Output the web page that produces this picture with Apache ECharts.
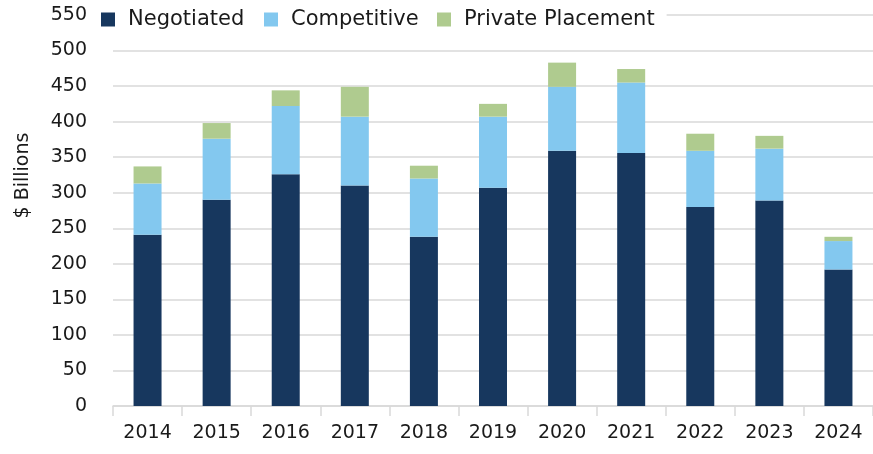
<!DOCTYPE html>
<html>
<head>
<meta charset="utf-8">
<script src="https://cdn.jsdelivr.net/npm/echarts@6/dist/echarts.min.js"></script>
<style>
  html, body { margin: 0; padding: 0; background: #fff; }
  #chart { width: 873px; height: 454px; }
</style>
</head>
<body>
<div id="chart"></div>
<script>
// years on the x axis
const years = ['2014', '2015', '2016', '2017', '2018', '2019', '2020', '2021', '2022', '2023', '2024']

// $ billions
const negotiated = [241, 290, 326, 310, 238, 307, 359, 356, 280, 289, 192]
const competitive = [72, 86, 96, 97, 82, 100, 90, 99, 79, 73, 40]
const privatePlacement = [24, 22, 22, 42, 18, 18, 34, 19, 24, 18, 6]

const chart = echarts.init(document.getElementById('chart'))

const gridColor = '#d9d9d9'
const font = 'DejaVu Sans'

// one legend per series so each entry can sit where the original puts it;
// the white box hides the 550 grid line behind the legend like in the original
const legendAt = (name, left, padRight) => ({
  data: [name],
  left,
  top: 4,
  icon: 'rect',
  itemWidth: 14,
  itemHeight: 14,
  backgroundColor: '#fff',
  padding: [5, padRight, 5, 5],
  textStyle: { fontFamily: font, fontSize: 21, color: '#1a1a1a', padding: [0, 0, 0, 8] },
})

const option = {
  animation: false,
  legend: [
    legendAt('Negotiated', 96, 22),
    legendAt('Competitive', 259, 16),
    legendAt('Private Placement', 432, 12),
  ],
  grid: {
    left: 113,
    top: 15,
    bottom: 48,
    width: 768,
    containLabel: false,
  },
  xAxis: {
    type: 'category',
    data: years,
    axisLine: { lineStyle: { color: gridColor, width: 1.5 } },
    axisTick: { show: true, length: 10, lineStyle: { color: gridColor, width: 1.5 } },
    axisLabel: { fontFamily: font, fontSize: 19, color: '#1a1a1a', margin: 18 },
  },
  yAxis: {
    type: 'value',
    min: 0,
    max: 550,
    interval: 50,
    name: '$ Billions',
    nameLocation: 'middle',
    nameGap: 80,
    nameTextStyle: { fontFamily: font, fontSize: 19, color: '#1a1a1a', padding: [0, 0, 0, 70] },
    axisLine: { show: false },
    axisTick: { show: false },
    axisLabel: { fontFamily: font, fontSize: 19, color: '#1a1a1a', margin: 26 },
    splitLine: { lineStyle: { color: gridColor, width: 1.5 } },
  },
  series: [
    {
      name: 'Negotiated',
      type: 'bar',
      stack: 'total',
      barWidth: 28,
      data: negotiated,
      itemStyle: { color: '#17375e' },
    },
    {
      name: 'Competitive',
      type: 'bar',
      stack: 'total',
      barWidth: 28,
      data: competitive,
      itemStyle: { color: '#83c8ef' },
    },
    {
      name: 'Private Placement',
      type: 'bar',
      stack: 'total',
      barWidth: 28,
      data: privatePlacement,
      itemStyle: { color: '#afcb8f' },
    },
  ],
}

chart.setOption(option)
</script>
</body>
</html>
